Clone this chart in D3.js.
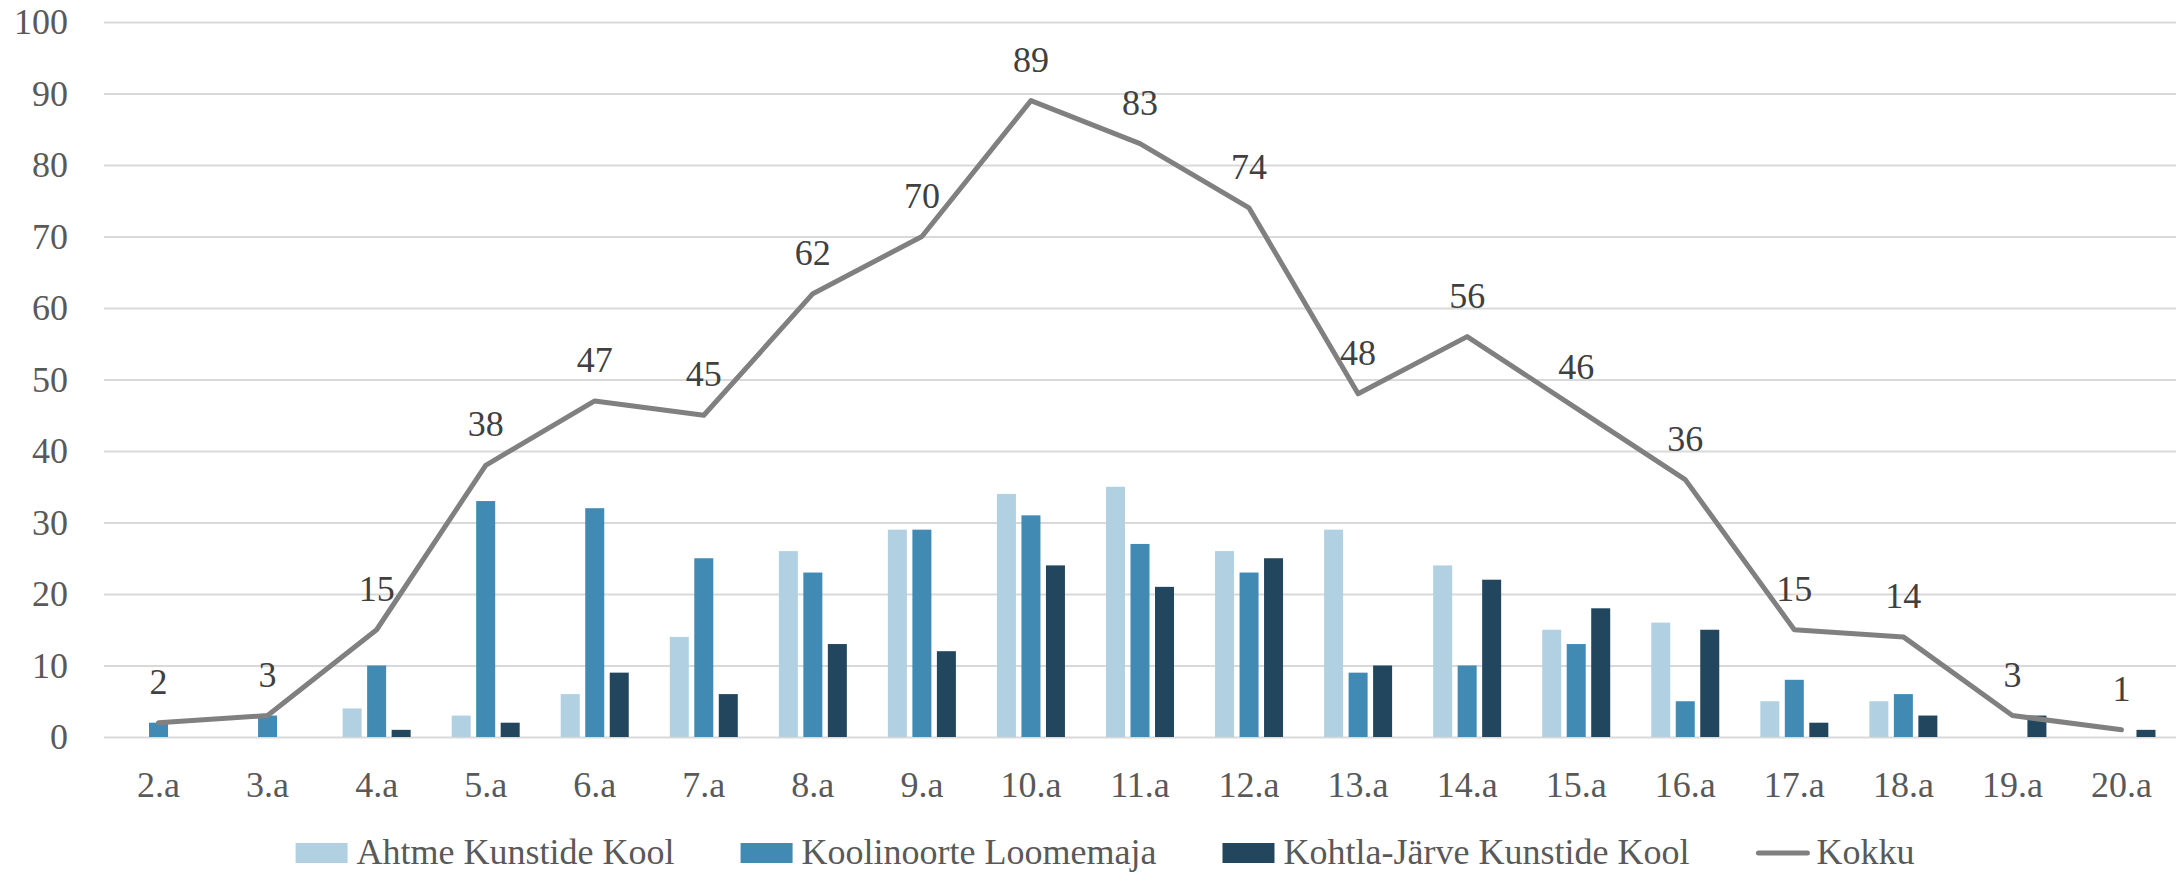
<!DOCTYPE html>
<html>
<head>
<meta charset="utf-8">
<script src="https://cdn.jsdelivr.net/npm/d3@7"></script>
<style>
  html, body { margin: 0; padding: 0; background: #ffffff; }
  svg { display: block; }
  text { font-family: "Liberation Serif", "DejaVu Serif", serif; }
</style>
</head>
<body>
<svg id="chart" width="2183" height="873"></svg>
<script>
const categories = ["2.a","3.a","4.a","5.a","6.a","7.a","8.a","9.a","10.a","11.a","12.a","13.a","14.a","15.a","16.a","17.a","18.a","19.a","20.a"];
const seriesNames = ["Ahtme Kunstide Kool","Koolinoorte Loomemaja","Kohtla-Järve Kunstide Kool"];
const ahtme       = [0,0,4,3,6,14,26,29,34,35,26,29,24,15,16,5,5,0,0];
const koolinoorte = [2,3,10,33,32,25,23,29,31,27,23,9,10,13,5,8,6,0,0];
const kohtla      = [0,0,1,2,9,6,13,12,24,21,25,10,22,18,15,2,3,3,1];
const kokku       = [2,3,15,38,47,45,62,70,89,83,74,48,56,46,36,15,14,3,1];
const lineName = "Kokku";
const yTicks = [0,10,20,30,40,50,60,70,80,90,100];

const colors = ["#B1D1E3","#418AB3","#21465E"];
const lineColor = "#808080";

const svg = d3.select("#chart");
const plotLeft = 104, plotRight = 2176, plotTop = 22, plotBottom = 737;

const x = d3.scaleBand().domain(categories).range([plotLeft, plotRight]).paddingInner(0).paddingOuter(0);
const x1 = d3.scaleBand().domain(seriesNames).range([0, 68]).paddingInner(0.2245).paddingOuter(0);
const y = d3.scaleLinear().domain([0, 100]).range([plotBottom, plotTop]);

// Y axis with gridlines
const yAxis = svg.append("g")
  .attr("transform", `translate(${plotLeft},0)`)
  .call(d3.axisLeft(y).tickValues(yTicks).tickSize(-(plotRight - plotLeft)).tickPadding(36).tickFormat(d3.format("d")));
yAxis.select(".domain").remove();
yAxis.selectAll(".tick line").attr("stroke", "#D9D9D9").attr("stroke-width", 2);
yAxis.selectAll(".tick text")
  .attr("x", -36)
  .attr("dy", "0.33em")
  .attr("fill", "#595959")
  .style("font-size", "36px")
  .style("font-family", '"Liberation Serif", serif');

// X axis labels
const xAxis = svg.append("g")
  .attr("transform", `translate(0,${plotBottom})`)
  .call(d3.axisBottom(x).tickSize(0));
xAxis.select(".domain").remove();
xAxis.selectAll(".tick text")
  .attr("y", 60)
  .attr("dy", null)
  .attr("fill", "#595959")
  .style("font-size", "36px")
  .style("font-family", '"Liberation Serif", serif');

// Bars
const seriesData = [ahtme, koolinoorte, kohtla];
const groups = svg.append("g");
seriesData.forEach((vals, si) => {
  groups.append("g")
    .selectAll("rect")
    .data(vals.map((v, i) => ({ v, c: categories[i] })).filter(d => d.v > 0))
    .join("rect")
    .attr("x", d => x(d.c) + x.bandwidth() / 2 - 34 + x1(seriesNames[si]))
    .attr("width", x1.bandwidth())
    .attr("y", d => y(d.v))
    .attr("height", d => y(0) - y(d.v))
    .attr("fill", colors[si]);
});

// Line
const lineData = kokku.map((v, i) => ({ v, c: categories[i] }));
const line = d3.line().x(d => x(d.c) + x.bandwidth() / 2).y(d => y(d.v));
svg.append("path")
  .datum(lineData)
  .attr("d", line)
  .attr("fill", "none")
  .attr("stroke", lineColor)
  .attr("stroke-width", 5)
  .attr("stroke-linecap", "round")
  .attr("stroke-linejoin", "round");

// Data labels
svg.append("g").selectAll("text")
  .data(lineData)
  .join("text")
  .attr("x", d => x(d.c) + x.bandwidth() / 2)
  .attr("y", d => y(d.v) - 29)
  .attr("text-anchor", "middle")
  .attr("fill", "#404040")
  .style("font-size", "36px")
  .text(d => d.v);

// Legend
const legend = svg.append("g");
const legendItems = seriesNames.map((n, i) => ({ name: n, type: "rect", color: colors[i] }))
  .concat([{ name: lineName, type: "line", color: lineColor }]);
const markerW = 52, markerGap = 9, itemGap = 66;
let cursor = 0;
legendItems.forEach(it => {
  const g = legend.append("g");
  if (it.type === "rect") {
    g.append("rect").attr("x", 0).attr("y", -10).attr("width", markerW).attr("height", 20).attr("fill", it.color);
  } else {
    g.append("line").attr("x1", 3).attr("x2", markerW).attr("y1", 0).attr("y2", 0)
      .attr("stroke", it.color).attr("stroke-width", 5).attr("stroke-linecap", "round");
  }
  const t = g.append("text").attr("x", markerW + markerGap).attr("y", 11)
    .attr("fill", "#595959").style("font-size", "36px").text(it.name);
  const w = markerW + markerGap + t.node().getComputedTextLength();
  g.attr("transform", `translate(${cursor},0)`);
  cursor += w + itemGap;
});
const total = cursor - itemGap;
legend.attr("transform", `translate(${1105 - total / 2},853)`);
</script>
</body>
</html>
